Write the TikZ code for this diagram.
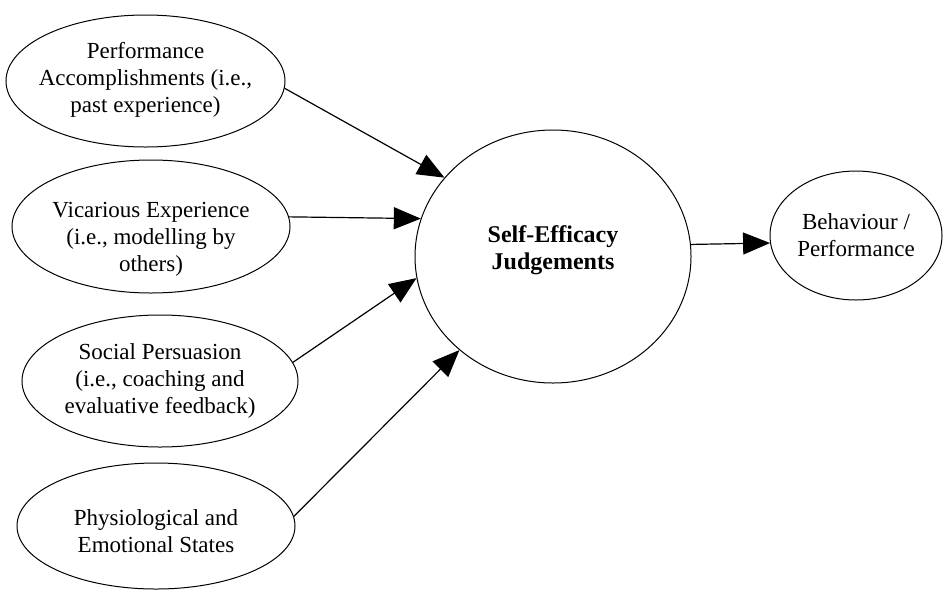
\documentclass[tikz,border=0pt]{standalone}
\usepackage{fontspec}
\setmainfont{Liberation Serif}
\usetikzlibrary{shapes.geometric,arrows.meta}
\begin{document}
\begin{tikzpicture}[x=1pt,y=-1pt,
  ell/.style={draw, ellipse, line width=1pt, inner sep=0pt},
  txt/.style={align=center, font=\fontsize{23}{27}\selectfont, inner sep=0pt},
  btxt/.style={align=center, font=\bfseries\fontsize{24}{27}\selectfont, inner sep=0pt},
  conn/.style={line width=1.2pt, -{Triangle[length=27pt,width=22pt]}}]
\useasboundingbox (0,0) rectangle (944,590);
% source ellipses
\node[ell, minimum width=279pt, minimum height=132pt] (pa) at (145.5,81) {};
\node[txt] (pat) at ([yshift=1pt]pa.center) {Performance\\Accomplishments (i.e.,\\past experience)};
\node[ell, minimum width=278pt, minimum height=133pt] (ve) at (151,226.5) {};
\node[txt] (vet) at ([yshift=-13pt]ve.center) {Vicarious Experience\\(i.e., modelling by\\others)};
\node[ell, minimum width=276pt, minimum height=132pt] (sp) at (160,381) {};
\node[txt] (spt) at (sp.center) {Social Persuasion\\(i.e., coaching and\\evaluative feedback)};
\node[ell, minimum width=278pt, minimum height=126pt] (ph) at (156,526) {};
\node[txt] (pht) at ([yshift=-5pt]ph.center) {Physiological and\\Emotional States};
% central circle
\node[ell, minimum width=276pt, minimum height=253pt] (se) at (553,256.5) {};
\node[btxt] (set) at ([yshift=6pt]se.center) {Self-Efficacy\\Judgements};
% outcome
\node[ell, minimum width=172pt, minimum height=129pt] (bp) at (856,235.5) {};
\node[txt] (bpt) at (bp.center) {Behaviour /\\Performance};
% connectors
\draw[conn] (pa.-3) -- (se.144);
\draw[conn] (ve.4) -- (se.164);
\draw[conn] (sp.8) -- (se.189);
\draw[conn] (ph.4) -- (se.225);
\draw[conn] (se.5.6) -- (bp.185);
\end{tikzpicture}
\end{document}
